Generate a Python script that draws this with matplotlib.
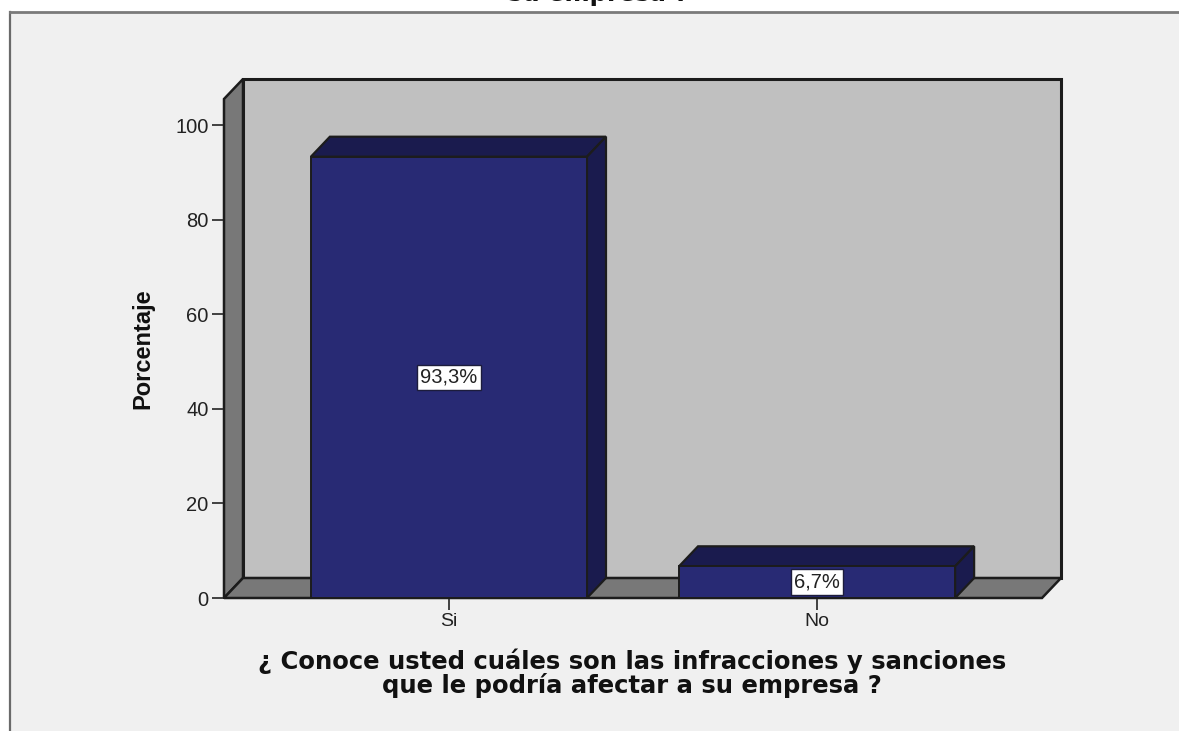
import matplotlib
matplotlib.use("Agg")
import matplotlib.pyplot as plt
from matplotlib.patches import Polygon, Rectangle

categories = ["Si", "No"]
percentages = [93.3, 6.7]
value_labels = ["93,3%", "6,7%"]
y_ticks = [0, 20, 40, 60, 80, 100]

W, H = 1179, 731
LINE = "#1c1c1c"
WALL = "#c0c0c0"
SIDE = "#787878"
BAR = "#282a74"
BAR_DARK = "#1a1b4e"
BG = "#f0f0f0"

fig = plt.figure(figsize=(W / 100, H / 100), dpi=100, facecolor="white")

# chart frame, only the top and left edges are inside the picture
fig.add_artist(Rectangle((10 / W, 0), 1 - 10 / W, 1 - 12 / H, transform=fig.transFigure,
                         facecolor=BG, edgecolor="none", zorder=-3))
fig.add_artist(plt.Line2D([10 / W, 10 / W], [0, 1 - 12 / H], color="#6a6a6a", lw=1.6, zorder=-2))
fig.add_artist(plt.Line2D([10 / W, 1], [1 - 12 / H, 1 - 12 / H], color="#7a7a7a", lw=2, zorder=-2))

ax = fig.add_axes([224 / W, (H - 598) / H, (1042 - 224) / W, (598 - 99) / H])
ax.patch.set_visible(False)
x0, x1 = -0.611, 1.611
y_top = 105.5
ax.set_xlim(x0, x1)
ax.set_ylim(0, y_top)

# 3d depth, in data units
dx = 19 / 368
dy = 20 / 4.73


def face(points, color, z, lw=1.6):
    ax.add_patch(Polygon(points, closed=True, facecolor=color, edgecolor=LINE, lw=lw,
                         joinstyle="miter", clip_on=False, zorder=z))


# walls and floor
face([(x0 + dx, dy), (x1 + dx, dy), (x1 + dx, y_top + dy), (x0 + dx, y_top + dy)], WALL, 1, lw=2.2)
face([(x0, 0), (x0 + dx, dy), (x0 + dx, y_top + dy), (x0, y_top)], SIDE, 1.1, lw=1.8)
face([(x0, 0), (x1, 0), (x1 + dx, dy), (x0 + dx, dy)], SIDE, 1.2, lw=1.8)

positions = range(len(categories))
width = 0.75
ax.bar(positions, percentages, width=width, color=BAR, edgecolor=LINE, lw=1.4, zorder=3,
       clip_on=False)
for pos, val, lab in zip(positions, percentages, value_labels):
    left, right = pos - width / 2, pos + width / 2
    face([(left, val), (right, val), (right + dx, val + dy), (left + dx, val + dy)], BAR_DARK, 2.5)
    face([(right, 0), (right + dx, dy), (right + dx, val + dy), (right, val)], BAR_DARK, 2.6)
    ax.text(pos, val / 2, lab, ha="center", va="center", fontsize=14.5, family="Liberation Sans",
            color="#222222", zorder=5,
            bbox=dict(boxstyle="square,pad=0.16", facecolor="white", edgecolor="#1c1c3c", lw=1))

for side in ["top", "right"]:
    ax.spines[side].set_visible(False)
for side in ["left", "bottom"]:
    ax.spines[side].set_color(LINE)
    ax.spines[side].set_linewidth(1.4)
    ax.spines[side].set_zorder(2)

ax.set_yticks(y_ticks)
ax.set_xticks(list(positions))
ax.set_xticklabels(categories)
ax.tick_params(axis="y", length=9, width=1.3, color="#333333", pad=2, labelsize=14.5,
               labelcolor="#222222")
ax.tick_params(axis="x", length=8.5, width=1.3, color="#333333", pad=2, labelsize=14,
               labelcolor="#222222")
for t in ax.get_xticklabels() + ax.get_yticklabels():
    t.set_family("Liberation Sans")

fig.text(143 / W, 1 - 349 / H, "Porcentaje", rotation=90, ha="center", va="center",
         fontsize=17, fontweight="bold", family="Liberation Sans", color="#111111")
fig.text(632 / W, 1 - 661 / H, "¿ Conoce usted cuáles son las infracciones y sanciones",
         ha="center", va="center", fontsize=17.5, fontweight="bold", color="#111111")
fig.text(632 / W, 1 - 686 / H, "que le podría afectar a su empresa ?",
         ha="center", va="center", fontsize=17.5, fontweight="bold", color="#111111")
# title is cut off by the top edge of the picture
fig.text(598 / W, 1 - 1.5 / H, "su empresa ?", ha="center", va="baseline",
         fontsize=17.5, fontweight="bold", color="#111111")

fig.savefig("out.png", dpi=100, facecolor="white")
